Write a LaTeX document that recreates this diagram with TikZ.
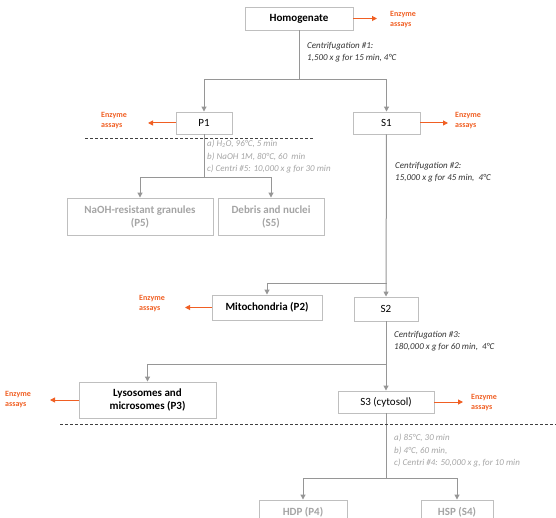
\documentclass[tikz,border=0pt]{standalone}
\usepackage{fontspec}
\setmainfont{Carlito}
\usetikzlibrary{arrows.meta}
\definecolor{lgray}{RGB}{191,191,191}
\definecolor{dgray}{RGB}{150,150,150}
\definecolor{tgray}{RGB}{165,165,165}
\definecolor{enzorange}{RGB}{240,95,35}
\tikzset{box/.style={draw=lgray, line width=0.9pt, fill=white, inner sep=2pt, align=center, font=\fontsize{11}{13}\selectfont}}
\tikzset{bbox/.style={box, font=\fontsize{11}{13}\selectfont\bfseries}}
\tikzset{gbox/.style={bbox, text=tgray}}
\tikzset{link/.style={draw=dgray, line width=1pt}}
\tikzset{go/.style={link, -{Triangle[length=5pt,width=5pt]}}}
\tikzset{toenz/.style={draw=enzorange, line width=1pt, -{Triangle[length=5pt,width=5pt]}}}
\tikzset{EA/.style={text=enzorange, anchor=west, inner sep=0pt, align=left, font=\fontsize{8}{10}\selectfont\bfseries}}
\tikzset{note/.style={anchor=north west, inner sep=0pt, align=left, text=black!80, font=\fontsize{9}{12.5}\selectfont\itshape}}
\tikzset{gnote/.style={note, text=tgray}}

\begin{document}
\begin{tikzpicture}[x=1pt,y=-1pt]
\clip (0,0) rectangle (556,518);

% boxes
\node[bbox, minimum width=108pt, minimum height=23pt] (homo) at (299,18.5) {Homogenate};
\node[box, minimum width=56pt, minimum height=22pt] (p1) at (204,123) {P1};
\node[box, minimum width=67pt, minimum height=22pt] (s1) at (386.5,123) {S1};
\node[gbox, minimum width=146pt, minimum height=37pt] (naoh) at (140,216.5) {NaOH-resistant granules\\(P5)};
\node[gbox, minimum width=106pt, minimum height=37pt] (debris) at (271,216.5) {Debris and nuclei\\(S5)};
\node[bbox, minimum width=110pt, minimum height=25pt] (mito) at (267,307.5) {Mitochondria (P2)};
\node[box, minimum width=64pt, minimum height=24pt] (s2) at (386,309) {S2};
\node[bbox, minimum width=137pt, minimum height=36pt] (lyso) at (147.5,400) {Lysosomes and\\microsomes (P3)};
\node[box, minimum width=96pt, minimum height=22pt] (s3) at (386,402) {S3 (cytosol)};
\node[gbox, minimum width=88pt, minimum height=24pt] (hdp) at (303,512) {HDP (P4)};
\node[gbox, minimum width=72pt, minimum height=24pt] (hsp) at (457,512) {HSP (S4)};

% branch points
\coordinate (c1) at (299,80);
\coordinate (c2) at (204,178);
\coordinate (c3) at (386.5,283);
\coordinate (c4) at (386,364);
\coordinate (c5) at (386,478);

\draw[link] (homo) -- (c1);
\draw[go] (c1) -| (p1);
\draw[go] (c1) -| (s1);
\draw[link] (p1) -- (c2);
\draw[go] (c2) -| (naoh);
\draw[go] (c2) -| (debris);
\draw[go] (s1) -- (s2);
\draw[go] (c3) -| (mito);
\draw[link] (s2) -- (c4);
\draw[go] (c4) -- (s3);
\draw[go] (c4) -| (lyso);
\draw[link] (s3) -- (c5);
\draw[go] (c5) -| (hdp);
\draw[go] (c5) -| (hsp);

% enzyme assays
\coordinate (e1) at (377,18.5);
\coordinate (e2) at (148,123);
\coordinate (e3) at (448,123);
\coordinate (e4) at (185,307.5);
\coordinate (e5) at (50,400);
\coordinate (e6) at (463,402);
\draw[toenz] (homo) -- (e1);
\draw[toenz] (p1) -- (e2);
\draw[toenz] (s1) -- (e3);
\draw[toenz] (mito) -- (e4);
\draw[toenz] (lyso) -- (e5);
\draw[toenz] (s3) -- (e6);
\node[EA] (ea1) at (390,19.5) {Enzyme\\assays};
\node[EA] (ea2) at (101,121) {Enzyme\\assays};
\node[EA] (ea3) at (455,121) {Enzyme\\assays};
\node[EA] (ea4) at (139,304) {Enzyme\\assays};
\node[EA] (ea5) at (5,400) {Enzyme\\assays};
\node[EA] (ea6) at (471,403) {Enzyme\\assays};

% dashed separators
\draw[black!75, line width=0.8pt, dash pattern=on 3pt off 2pt] (85,138) -- (313,138);
\draw[black!75, line width=0.8pt, dash pattern=on 3pt off 2pt] (60,424) -- (556,424);

% conditions
\node[note] (n1) at (307,42) {Centrifugation \#1:\\1,500 x g for 15 min, 4°C};
\node[gnote] (t1) at (207,140) {a) H\textsubscript{2}O, 96°C, 5 min\\b) NaOH 1M, 80°C, 60~ min\\c) Centri \#5: 10,000 x g for 30 min};
\node[note] (n2) at (395,162) {Centrifugation \#2:\\15,000 x g for 45 min,~ 4°C};
\node[note] (n3) at (394,331) {Centrifugation \#3:\\180,000 x g for 60 min,~ 4°C};
\node[gnote] (t2) at (394,434) {a) 85°C, 30 min\\b) 4°C, 60 min,\\c) Centri \#4: 50,000 x g, for 10 min};
\end{tikzpicture}
\end{document}
